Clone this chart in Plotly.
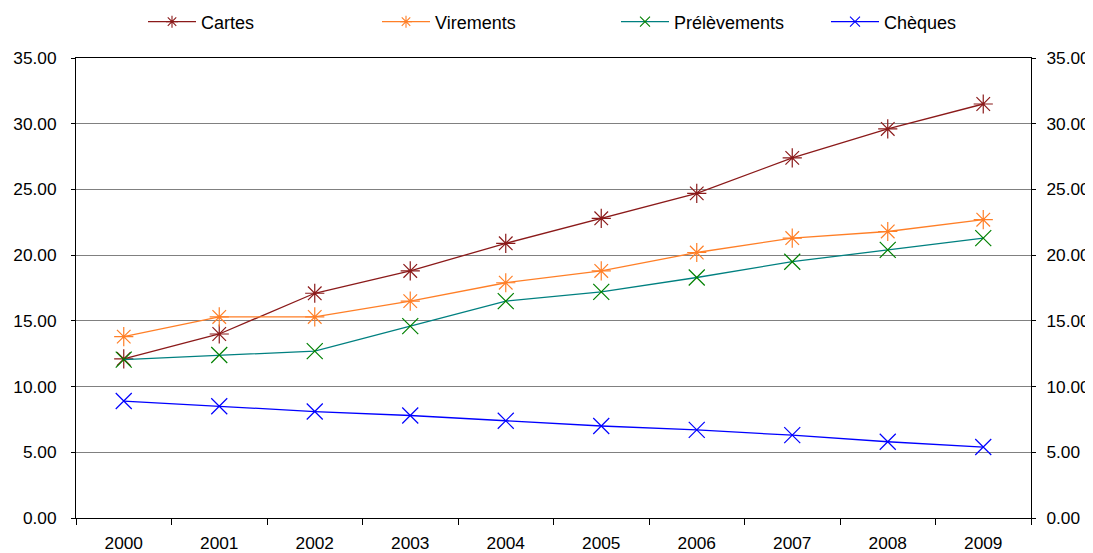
import plotly.graph_objects as go

years = ["2000", "2001", "2002", "2003", "2004", "2005", "2006", "2007", "2008", "2009"]
cartes = [12.1, 14.0, 17.1, 18.8, 20.9, 22.8, 24.7, 27.4, 29.6, 31.5]
virements = [13.8, 15.3, 15.3, 16.5, 17.9, 18.8, 20.2, 21.3, 21.8, 22.7]
prelevements = [12.05, 12.4, 12.7, 14.6, 16.5, 17.2, 18.3, 19.5, 20.4, 21.3]
cheques = [8.9, 8.5, 8.1, 7.8, 7.4, 7.0, 6.7, 6.3, 5.8, 5.4]

names = ["Cartes", "Virements", "Prélèvements", "Chèques"]
values = [cartes, virements, prelevements, cheques]
line_colors = ["#8B1A1A", "#FF7F27", "#008080", "#0000FF"]
marker_colors = ["#8B1A1A", "#FF7F27", "#008000", "#0000FF"]
symbols = ["asterisk-open", "asterisk-open", "x-thin-open", "x-thin-open"]

W, H = 1086, 545
legend_px = [135, 369, 608, 818]

font = dict(family="Liberation Sans, Arial, sans-serif", size=18, color="#000000")
tick_font = dict(family="Liberation Sans, Arial, sans-serif", size=17.3, color="#000000")

fig = go.Figure()
for i, (name, vals, lc, mc, sym) in enumerate(zip(names, values, line_colors, marker_colors, symbols)):
    fig.add_trace(go.Scatter(
        x=years, y=vals, name=name, mode="lines+markers", showlegend=False,
        line=dict(color=lc, width=1.3),
        marker=dict(symbol=sym, size=16, color=mc, line=dict(color=mc, width=1.2)),
    ))
    lg = "legend" if i == 0 else f"legend{i+1}"
    fig.add_trace(go.Scatter(
        x=[None], y=[None], name=name, mode="lines+markers", legend=lg,
        line=dict(color=lc, width=1.3),
        marker=dict(symbol=sym, size=10, color=mc, line=dict(color=mc, width=1.1)),
    ))

fig.add_trace(go.Scatter(x=years, y=cheques, yaxis="y2", mode="lines",
                         line=dict(width=0, color="rgba(0,0,0,0)"),
                         showlegend=False, hoverinfo="skip"))

legends = {}
for i, px in enumerate(legend_px):
    key = "legend" if i == 0 else f"legend{i+1}"
    legends[key] = dict(orientation="h", xref="container", yref="container",
                        x=px / W, xanchor="left", y=1 - 14 / H, yanchor="middle",
                        font=font, itemwidth=48, bgcolor="rgba(0,0,0,0)")

fig.update_layout(
    width=W, height=H,
    margin=dict(l=68, r=63, t=50, b=35),
    paper_bgcolor="white", plot_bgcolor="white",
    font=font,
    showlegend=True,
    xaxis=dict(type="category", range=[-0.5, 9.5], tickson="boundaries", ticks="outside",
               ticklen=6, tickcolor="#000000", showline=True, linecolor="#000000",
               linewidth=1, mirror=True, showgrid=False, tickfont=tick_font, automargin=False,
               ticklabelstandoff=9),
    yaxis=dict(range=[0, 35], dtick=5, tickformat=".2f", ticks="outside", ticklen=4,
               tickcolor="#000000", showline=True, linecolor="#000000", linewidth=1,
               showgrid=True, gridcolor="#808080", gridwidth=1, zeroline=False,
               tickfont=tick_font, automargin=False, ticklabelstandoff=11),
    yaxis2=dict(range=[0, 35], dtick=5, tickformat=".2f", ticks="outside", ticklen=4,
                tickcolor="#000000", overlaying="y", side="right", showline=True,
                linecolor="#000000", linewidth=1, showgrid=False, zeroline=False,
                tickfont=tick_font, automargin=False, ticklabelstandoff=7),
    **legends,
)

fig.write_html("out.html")
